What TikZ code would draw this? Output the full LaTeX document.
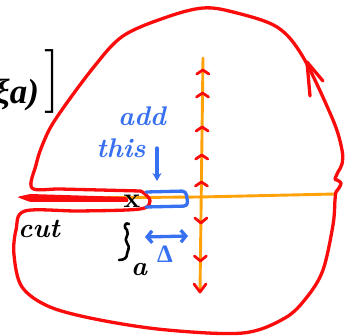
\documentclass[tikz,border=0pt]{standalone}
\usepackage{fontspec}
\newfontfamily\grkfont{Liberation Serif}
\usetikzlibrary{arrows.meta}
\definecolor{pred}{RGB}{250,12,12}
\definecolor{porange}{RGB}{255,162,10}
\definecolor{pblue}{RGB}{55,112,240}
\begin{document}
\begin{tikzpicture}[x=1pt,y=-1pt,line cap=round,line join=round,
  redline/.style={draw=pred,line width=3.3pt},
  orangeline/.style={draw=porange,line width=2.9pt},
  blueline/.style={draw=pblue,line width=3.3pt},
  upmark/.style={draw=pred,line width=2.8pt},
  hand/.style={inner sep=0pt,font=\fontsize{27}{29}\selectfont\bfseries\itshape},
  bluetext/.style={hand,text=pblue},
  blacktext/.style={hand,text=black}]
\useasboundingbox (0,0) rectangle (354,336);
\clip (0,0) rectangle (354,336);
% orange lines
\coordinate (hl) at (70,198);
\coordinate (hc) at (200,197);
\coordinate (hr) at (335,194);
\coordinate (vt) at (203,58);
\coordinate (vb) at (200,292);
\draw[orangeline] (hl) -- (hc) -- (hr);
\draw[orangeline] (vt) -- (vb);
% red outline of the domain
\draw[redline] plot[smooth,tension=0.55] coordinates {
 (140,191) (100,190) (60,189) (32,188) (36,165) (42,146) (55,120)
 (93,68) (123,36) (167,17) (203,8) (233,12) (277,27) (303,57) (333,120)
 (342,150) (342,164) (338,172) (335,179) (337,180) (341,183) (339,188)
 (336,192) (335,200) (333,225) (323,270) (307,297) (285,318) (243,333)
 (167,330) (100,320) (50,307) (22,287) (14,255) (16,230) (25,211)
 (80,211) (140,209) (150,201) (144,193) (140,191)};
% arrow on the outline
\coordinate (atip) at (307,62);
\draw[redline] (310,96) -- (atip) -- (323,81);
% the cut
\fill[pred,rounded corners=1.5pt] (17,197) -- (30,194) -- (127,197) -- (129,202) -- (30,202) -- cycle;
% marks on the vertical line
\foreach \y in {70,93,127,155,182}{
  \pgfmathsetmacro{\xx}{203-3*(\y-58)/234}
  \draw[upmark] (\xx-6,\y+4) -- (\xx,\y) -- (\xx+6,\y+4);
}
\foreach \y in {223,261}{
  \pgfmathsetmacro{\xx}{203-3*(\y-58)/234}
  \draw[upmark] (\xx-6,\y-5) -- (\xx,\y) -- (\xx+6,\y-5);
}
\draw[upmark] (194,284) -- (vb) -- (206,284);
% blue box
\draw[blueline,rounded corners=4pt] (146,192) -- (186,191) -- (188,206) -- (146,207);
% text
\node[bluetext] (add) at (142,116) {add};
\node[bluetext] (this) at (121,148) {this};
\coordinate (arrtop) at (157,148);
\coordinate (boxtop) at (157,181);
\draw[blueline,-{Stealth[length=8pt,width=9pt]}] (arrtop) -- (boxtop);
\coordinate (dl) at (145,237);
\coordinate (dr) at (188,236);
\draw[blueline,{Straight Barb[length=5pt,width=12pt]}-{Straight Barb[length=5pt,width=12pt]}] (dl) -- (dr);
\node[inner sep=0pt,text=pblue,font=\fontsize{25}{27}\selectfont\grkfont\bfseries] (delta) at (165,254) {Δ};
\node[blacktext] (cut) at (39,229) {cut};
\node[inner sep=0pt,font=\fontsize{28}{30}\selectfont\bfseries] (x) at (132,201) {x};
\node[blacktext] (a) at (139,270) {a};
\draw[black,line width=2.6pt] (129,224) .. controls (125,221) and (123,228) .. (127,230)
  .. controls (130,236) and (123,238) .. (127,243)
  .. controls (131,248) and (127,251) .. (127,254)
  .. controls (127,258) and (124,260) .. (119,260);
% top-left formula
\node[inner sep=0pt,anchor=base west,font=\fontsize{35}{37}\selectfont\grkfont\bfseries\itshape] (formula) at (-6,104) {ξa)};
\node[inner sep=0pt,anchor=base,font=\fontsize{64}{66}\selectfont] (bracket) at (53,98) {]};
\end{tikzpicture}
\end{document}
